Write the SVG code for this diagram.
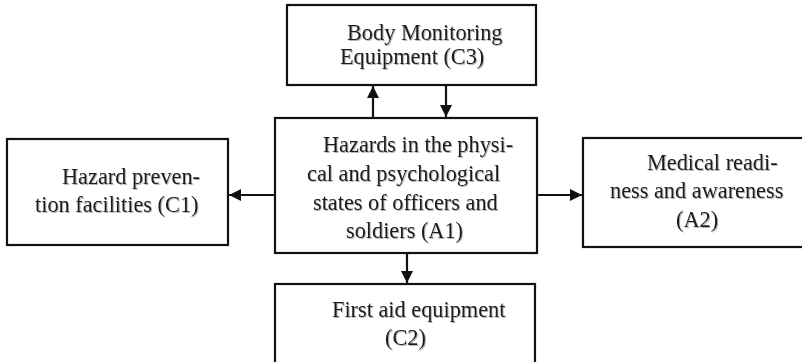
<svg xmlns="http://www.w3.org/2000/svg" width="802" height="362" viewBox="0 0 802 362">
  <style>
    .box { fill: #ffffff; stroke: #111111; stroke-width: 2.2; }
    .lbl { font-family: "Liberation Serif", "Times New Roman", serif; font-size: 22.3px; fill: #1a1a1a; filter: url(#soft); }
    .edge { fill: none; stroke: #111111; stroke-width: 2.2; marker-end: url(#head); }
  </style>
  <defs>
    <filter id="soft" x="-5%" y="-20%" width="110%" height="140%">
      <feDropShadow dx="1" dy="1" stdDeviation="0.7" flood-color="#777777" flood-opacity="0.55"/>
    </filter>
    <marker id="head" viewBox="0 0 12 12" refX="12" refY="6" markerWidth="12" markerHeight="12" markerUnits="userSpaceOnUse" orient="auto">
      <path d="M0,0 L12,6 L0,12 Z" fill="#111111"/>
    </marker>
  </defs>

  <rect width="802" height="362" fill="#ffffff"/>

  <g id="connectors">
    <line class="edge" x1="373" y1="118" x2="373" y2="86"/>
    <line class="edge" x1="446" y1="86" x2="446" y2="117"/>
    <line class="edge" x1="275" y1="195" x2="229" y2="195"/>
    <line class="edge" x1="537" y1="195" x2="582" y2="195"/>
    <line class="edge" x1="407" y1="253" x2="407" y2="283"/>
  </g>

  <g id="c3">
    <rect class="box" x="287" y="5" width="249" height="80"/>
    <text class="lbl" x="347" y="40">Body Monitoring</text>
    <text class="lbl" x="340" y="64">Equipment (C3)</text>
  </g>

  <g id="a1">
    <rect class="box" x="275" y="118" width="262" height="135"/>
    <text class="lbl" x="323" y="152">Hazards in the physi-</text>
    <text class="lbl" x="307" y="181">cal and psychological</text>
    <text class="lbl" x="313" y="210">states of officers and</text>
    <text class="lbl" x="346" y="238">soldiers (A1)</text>
  </g>

  <g id="c1">
    <rect class="box" x="7" y="139" width="221" height="106"/>
    <text class="lbl" x="62" y="184">Hazard preven-</text>
    <text class="lbl" x="35" y="212">tion facilities (C1)</text>
  </g>

  <g id="a2">
    <rect class="box" x="583" y="138" width="240" height="109"/>
    <text class="lbl" x="647" y="170">Medical readi-</text>
    <text class="lbl" x="610" y="198">ness and awareness</text>
    <text class="lbl" x="676" y="227">(A2)</text>
  </g>

  <g id="c2">
    <rect class="box" x="275" y="284" width="260" height="100"/>
    <text class="lbl" x="332" y="317">First aid equipment</text>
    <text class="lbl" x="385" y="345">(C2)</text>
  </g>
</svg>
